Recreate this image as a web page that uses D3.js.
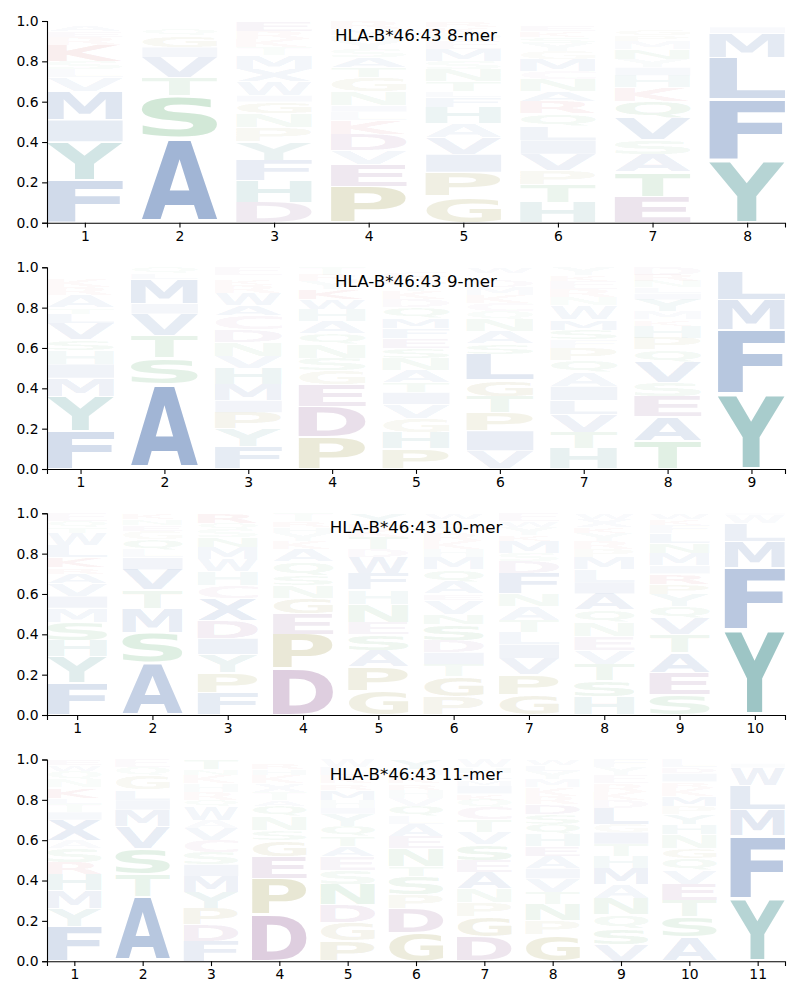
<!DOCTYPE html>
<html><head><meta charset="utf-8">
<script src="https://cdn.jsdelivr.net/npm/d3@7"></script>
<style>body{margin:0;background:#fff}</style>
</head><body>
<svg id="chart" width="800" height="1000"></svg>
<script>
// ---- data: letter + frequency (hundredths), stacked bottom -> top ----
const titles = ["HLA-B*46:43 8-mer","HLA-B*46:43 9-mer","HLA-B*46:43 10-mer","HLA-B*46:43 11-mer"];
const yTicks = [0,0.2,0.4,0.6,0.8,1.0];
const mer8 = [
 "F21 Y19 I11 M14 V7 L4 S4 K8 R4 E3 A3 W2",
 "A42 S21 T9 V10 I5 G6 Q3 N2 E2",
 "D10 H11 F10 Y9 P7 N7 G6 I3 W7 X6 M7 T4 K4 R4 E5",
 "P18 E11 V7 D8 K7 L4 I3 N7 G7 T5 A5 S4 Y4 H3 M3 R4",
 "G13 P12 I9 V8 A7 H8 F5 L3 T5 N6 S4 M6 E4 Q4 K3 R3",
 "H10 T9 P7 V8 I7 L7 Q6 R6 A5 N6 C4 M6 G4 Y4 S3 K3 E3 W2",
 "E13 T12 A9 S7 V11 Q8 K7 H6 I4 Y4 N5 M4 P3 G3 R2 D2",
 "Y31 F30 L21 M12 I3 W2 V1"
];
const mer9 = [
 "F19 Y17 M9 I7 H7 S5 V8 L5 T3 A6 R4 K4 E2 W2 Q2",
 "A42 S13 T11 V11 I5 M12 L3 Q3",
 "F11 Y9 P8 I6 M8 H8 V6 N7 D6 C7 A5 W6 R4 K3 S2 E4",
 "P16 D15 E11 G7 S6 N7 Q5 A6 H6 W5 K5 Y4 R3 T4",
 "P10 H8 G7 V7 I6 T5 A6 N6 S5 E5 F5 M5 Q5 D4 K4 Y4 R3 C3 L2",
 "V9 I10 P9 T8 G8 L13 S5 A6 N6 Q4 C4 K4 M4 D3 E2 Y2 W3",
 "H10 T8 V9 L7 I7 A7 Q6 P6 F4 S5 M5 W7 N4 R4 E4 K3 Y4",
 "T14 A12 E10 S7 V10 Q6 P6 H6 K3 M4 Y6 I3 L3 N3 R3 D4",
 "Y37 F32 M15 L14 W2"
];
const mer10 = [
 "F16 Y13 H8 S9 M7 I6 V6 A5 R3 K5 L6 W6 T3 Q3 E4",
 "A26 S15 M12 T9 V10 I6 L4 Q5 G4 E3 N3 K3",
 "F11 P10 Y9 I8 D9 X11 C6 H7 W6 M6 N5 S4 Q3 R5",
 "D23 P17 E10 G8 N6 S5 Q7 A6 K4 Y4 H3 R3 T4",
 "G12 P12 A8 S8 E6 N9 H7 F8 W8 D4 T6 K4 R3 Y5",
 "P9 G10 T6 I6 D6 S8 N5 V7 E3 A6 Q6 M6 H4 K4 R4 Y4 L3 W3",
 "G10 P10 V8 I7 L6 T6 A7 N6 F10 D6 S4 M6 K3 Y4 W3 E4",
 "H9 S8 T8 V7 E7 N7 Q6 A8 I6 L6 M6 P4 R4 Y4 K3 X4 W3",
 "S10 E11 A10 T9 V8 Q6 Y6 P5 R5 I4 M6 N5 L5 F4 K3 W3",
 "Y42 F31 M13 L9 W4 I1"
];
const mer11 = [
 "F17 Y9 M9 H8 R6 S7 A4 X10 I4 T4 L3 K5 N4 Q4 W3 E3",
 "A32 T11 S13 V11 M8 I5 L5 G7 Q4 E4",
 "F10 D8 P8 Y8 M8 I6 S6 C6 V6 A4 W7 Q3 R4 H4 K4 N3 T5",
 "D23 P18 E11 G8 S5 N7 Q5 A3 T4 X4 K4 H3 R3 Y2",
 "P10 G9 D9 N10 S7 E7 A5 T5 Q5 Y6 I3 H4 M5 R3 K4 L4 W4",
 "G14 D12 P7 S9 T5 N9 E6 A6 L4 Q5 V4 H4 R3 K4 M3 Y5",
 "D12 G10 P7 N7 A8 E6 S8 V6 T6 C6 Q4 K3 I4 M3 L3 H3 W4",
 "G13 P7 N8 T6 V7 I5 A6 E5 H6 Q5 S5 D5 R4 K4 M4 Y4 L3 W3",
 "V8 S8 Q7 N8 A7 M8 H6 T6 I6 G4 L8 D4 K4 R4 E4 Y4 F4",
 "A12 S10 T8 E8 V7 Q6 G5 N7 H5 Y5 P4 M5 K4 R3 I4 D3 L4",
 "Y31 F31 M13 L12 W9 I2 V2"
];
const panels = [mer8, mer9, mer10, mer11];

// ---- styling ----
const colorOf = {};
"AVLIMFWX".split("").forEach(c=>colorOf[c]="#4c72b0");
"YH".split("").forEach(c=>colorOf[c]="#449191");
"STNQ".split("").forEach(c=>colorOf[c]="#55a868");
"GP".split("").forEach(c=>colorOf[c]="#9a9440");
"DE".split("").forEach(c=>colorOf[c]="#8a5490");
"KR".split("").forEach(c=>colorOf[c]="#c44e52");
colorOf["C"]="#b07aa1";

const svg = d3.select("#chart");
const left = 47, right = 785, ph = 201.7;
const tops = [21, 267.3, 513.3, 759.5];
const FONT = '"DejaVu Sans", sans-serif';

const ctx = document.createElement("canvas").getContext("2d");
ctx.font = 'bold 100px "DejaVu Sans"';
const mcache = {};
function met(ch){
  if(!mcache[ch]){ const m = ctx.measureText(ch);
    mcache[ch] = {l:m.actualBoundingBoxLeft, r:m.actualBoundingBoxRight, a:m.actualBoundingBoxAscent, d:m.actualBoundingBoxDescent}; }
  return mcache[ch];
}

panels.forEach((data, pi) => {
  const n = data.length;
  const top = tops[pi];
  const x = d3.scaleLinear().domain([0.6, n + 0.4]).range([left, right]);
  const y = d3.scaleLinear().domain([0, 1]).range([top + ph, top]);
  const g = svg.append("g");

  // letters
  data.forEach((s, i) => {
    const pos = i + 1;
    let base = 0;
    s.split(" ").forEach(tok => {
      const ch = tok[0], h = +tok.slice(1) / 100;
      const pad = h * 0.03;
      const y0 = base + pad, y1 = base + h - pad;
      base += h;
      const x0 = x(pos - 0.4), x1 = x(pos + 0.4);
      const yt = y(y1), yb = y(y0);
      const m = met(ch);
      const sx = (x1 - x0) / (m.l + m.r), sy = (yb - yt) / (m.a + m.d);
      g.append("text")
        .attr("transform", `translate(${x0},${yt}) scale(${sx},${sy}) translate(${m.l},${m.a})`)
        .attr("font-family", FONT).attr("font-weight", "bold").attr("font-size", 100)
        .attr("fill", colorOf[ch] || "#4c72b0")
        .attr("fill-opacity", Math.min(1, 1.25 * h))
        .text(ch);
    });
  });

  // axes
  const ya = g.append("g").attr("transform", `translate(${left},0)`)
    .call(d3.axisLeft(y).tickValues(yTicks).tickFormat(d3.format(".1f")).tickSizeOuter(0).tickSize(4.9).tickPadding(3.5));
  const xa = g.append("g").attr("transform", `translate(0,${top + ph})`)
    .call(d3.axisBottom(x).tickValues(d3.range(1, n + 1)).tickFormat(d3.format("d")).tickSizeOuter(0).tickSize(4.9).tickPadding(3.5));
  [ya, xa].forEach(a => {
    a.selectAll("text").attr("font-family", FONT).attr("font-size", 13.9).attr("fill", "#000");
    a.selectAll("line").attr("stroke", "#000").attr("stroke-width", 1.1);
    a.select(".domain").attr("stroke", "#000").attr("stroke-width", 1.1);
  });

  g.append("text").attr("x", (left + right) / 2).attr("y", y(0.9))
    .attr("text-anchor", "middle").attr("font-family", FONT).attr("font-size", 16.7)
    .attr("fill", "#000").text(titles[pi]);
});
</script>
</body></html>
